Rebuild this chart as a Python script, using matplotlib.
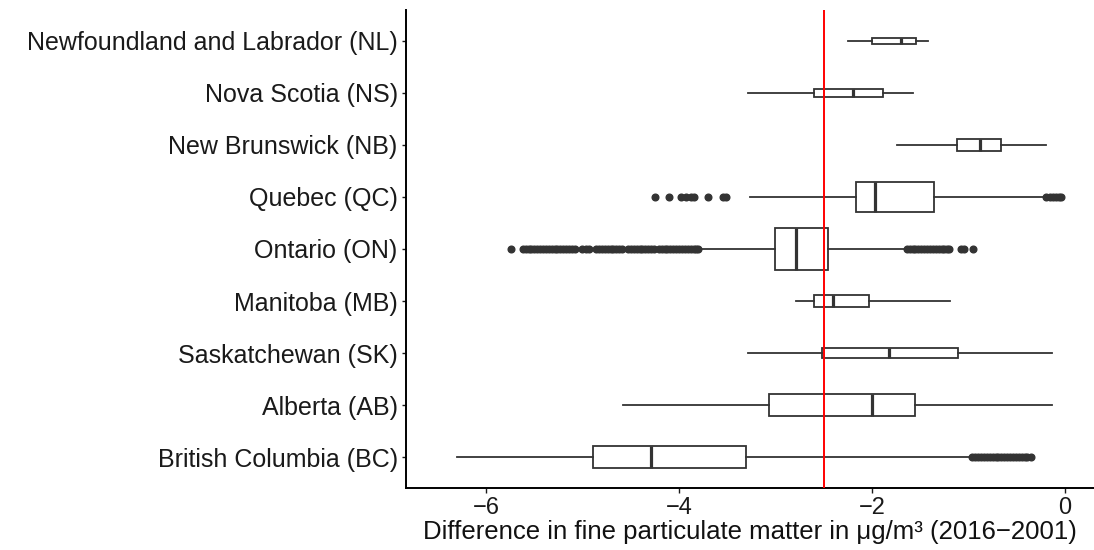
import numpy as np
import matplotlib
matplotlib.use("Agg")
import matplotlib.pyplot as plt

plt.rcParams['font.family'] = ['Liberation Sans', 'DejaVu Sans']

# provinces, bottom to top
provinces = ['British Columbia (BC)', 'Alberta (AB)', 'Saskatchewan (SK)', 'Manitoba (MB)',
             'Ontario (ON)', 'Quebec (QC)', 'New Brunswick (NB)', 'Nova Scotia (NS)',
             'Newfoundland and Labrador (NL)']

whisker_low = [-6.30, -4.58, -3.29, -2.79, -3.78, -3.27, -1.74, -3.29, -2.25]
q1 = [-4.89, -3.07, -2.52, -2.60, -3.01, -2.17, -1.12, -2.60, -2.00]
median = [-4.29, -2.00, -1.82, -2.41, -2.79, -1.97, -0.88, -2.20, -1.70]
q3 = [-3.31, -1.55, -1.11, -2.03, -2.46, -1.36, -0.66, -1.89, -1.54]
whisker_high = [-0.98, -0.14, -0.14, -1.19, -1.66, -0.23, -0.20, -1.58, -1.42]

# relative box widths (varwidth)
box_width = [0.44, 0.41, 0.19, 0.24, 0.79, 0.58, 0.22, 0.17, 0.13]

bc_outliers = [-0.96, -0.93, -0.90, -0.87, -0.84, -0.81, -0.78, -0.75, -0.72, -0.69,
               -0.66, -0.63, -0.60, -0.57, -0.54, -0.51, -0.48, -0.45, -0.42, -0.39, -0.35]
on_outliers = [-5.74,
               -5.62, -5.59, -5.56, -5.53, -5.50, -5.47, -5.44, -5.41, -5.38, -5.35,
               -5.32, -5.29, -5.26, -5.23, -5.20, -5.17, -5.14, -5.11, -5.08,
               -5.01, -4.96, -4.93,
               -4.86, -4.83, -4.80, -4.77, -4.74, -4.71, -4.68, -4.65, -4.62, -4.59,
               -4.53, -4.50, -4.47, -4.44, -4.41, -4.38, -4.35, -4.32, -4.29, -4.26,
               -4.21, -4.18, -4.15, -4.12, -4.09, -4.06, -4.03, -4.00, -3.97, -3.94,
               -3.91, -3.88, -3.85, -3.82, -3.80,
               -1.64, -1.61, -1.58, -1.55, -1.52, -1.49, -1.46, -1.43, -1.40, -1.37,
               -1.34, -1.31, -1.28, -1.25, -1.22, -1.20, -1.08, -1.05, -0.95]
qc_outliers = [-4.25, -4.10, -3.98, -3.93, -3.88, -3.85, -3.70, -3.54, -3.51,
               -0.20, -0.16, -0.12, -0.09, -0.06, -0.04]
outliers = [bc_outliers, [], [], [], on_outliers, qc_outliers, [], [], []]

threshold = -2.5

stats = []
for i in range(len(provinces)):
    stats.append({'whislo': whisker_low[i], 'q1': q1[i], 'med': median[i],
                  'q3': q3[i], 'whishi': whisker_high[i], 'fliers': outliers[i]})

fig = plt.figure(figsize=(10.94, 5.5), dpi=100)
ax = fig.add_axes([406 / 1094, 62 / 550, 688 / 1094, 478 / 550])

line_col = '#333333'
pos = np.arange(1, len(provinces) + 1)
ax.bxp(stats, positions=pos, widths=box_width, orientation='horizontal',
       showcaps=False, patch_artist=True,
       boxprops=dict(facecolor='white', edgecolor=line_col, linewidth=1.3),
       whiskerprops=dict(color=line_col, linewidth=1.3),
       medianprops=dict(color=line_col, linewidth=2.3),
       flierprops=dict(marker='o', markersize=4.8, markerfacecolor=line_col,
                       markeredgecolor=line_col, linestyle='none'))

ax.axvline(threshold, color='red', linewidth=1.4, zorder=5)

ax.set_xlim(-6.83, 0.30)
ax.set_ylim(0.404, 9.596)
ax.set_xticks([-6, -4, -2, 0])
ax.set_xticklabels(['\u22126', '\u22124', '\u22122', '0'])
ax.set_yticks(pos)
ax.set_yticklabels(provinces)

for s in ['top', 'right']:
    ax.spines[s].set_visible(False)
for s in ['left', 'bottom']:
    ax.spines[s].set_linewidth(1.4)
    ax.spines[s].set_color('black')

ax.tick_params(axis='y', length=3, width=1.0, pad=3, labelsize=18, colors='#1a1a1a')
ax.tick_params(axis='x', length=3.5, width=1.0, pad=3, labelsize=17, colors='#1a1a1a')
ax.set_xlabel('Difference in fine particulate matter in \u03bcg/m\u00b3 (2016\u22122001)',
              fontsize=18.5, color='#111111', labelpad=1)

fig.savefig('out.png', dpi=100)
